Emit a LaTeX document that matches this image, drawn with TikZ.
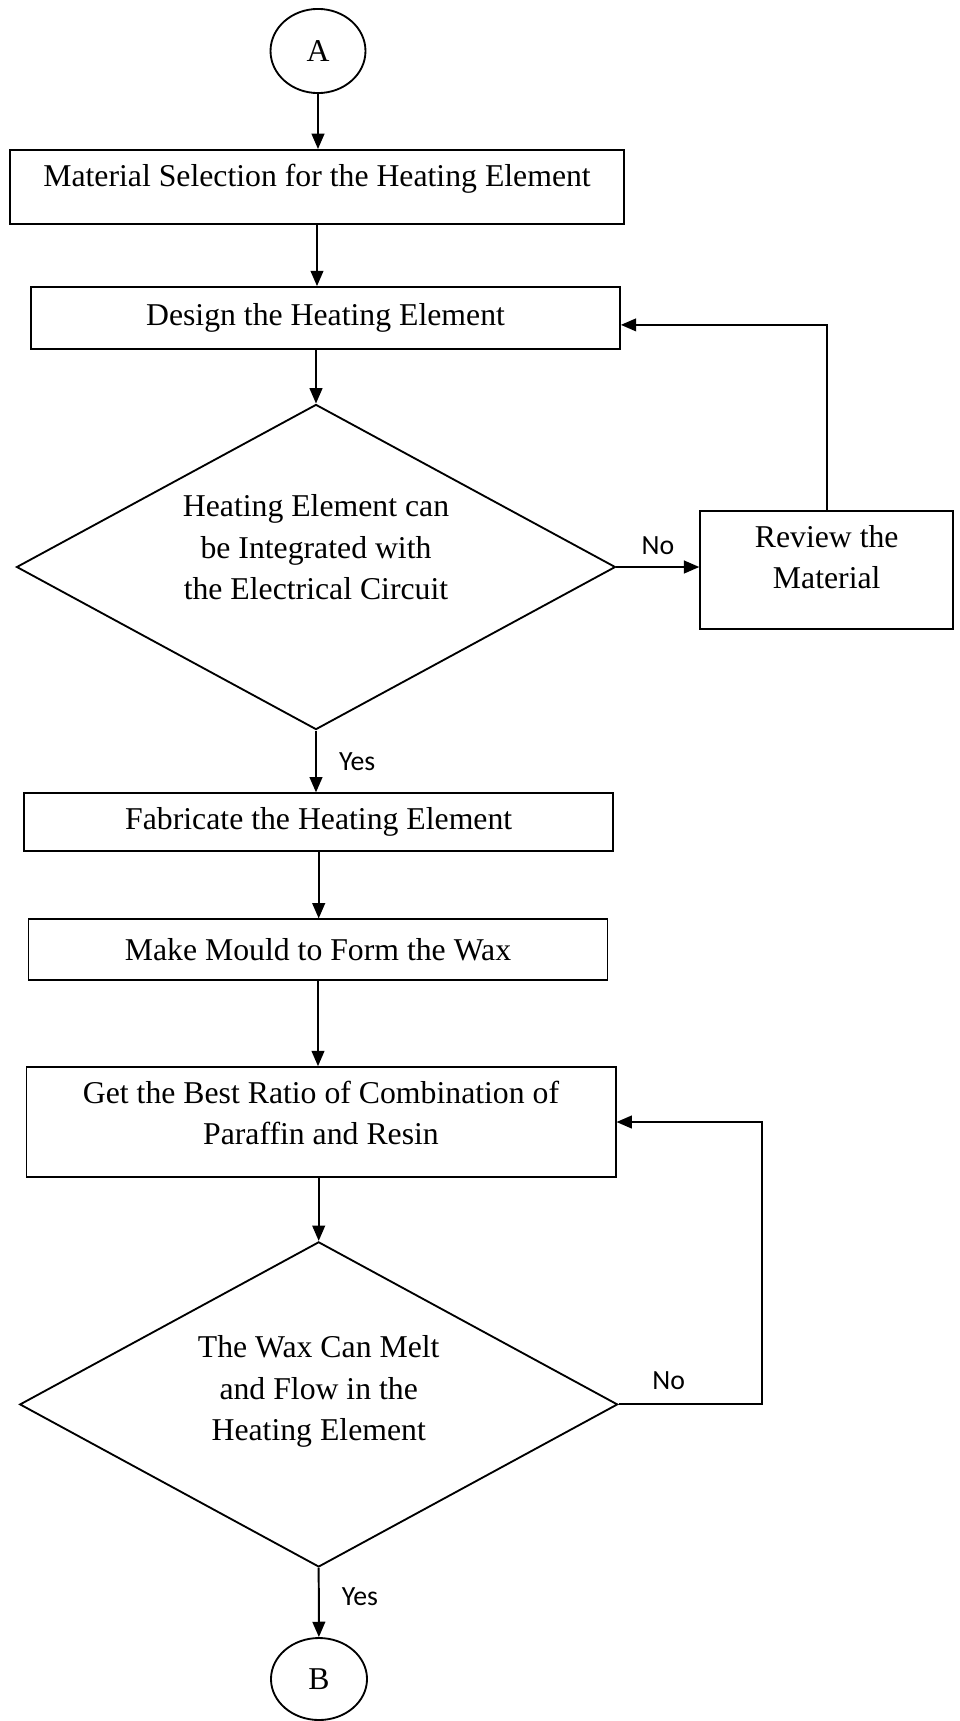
\documentclass[tikz,border=0pt]{standalone}
\usepackage{fontspec}
\setmainfont{Liberation Serif}
\newfontfamily\answerfont{Carlito}
\usepackage{tikz}
\usetikzlibrary{positioning, arrows.meta, shapes.geometric}
\tikzstyle{arrow} = [line width=0.75pt,-{Triangle[length=5.8pt,width=4.8pt]}]

\begin{document}
\begin{tikzpicture}[x=0.378pt,y=-0.378pt]
                    \tikzstyle{every node}=[font=\fontsize{12}{15.7}\selectfont] \tikzstyle{process} =
                    [rectangle, draw=black, line width=0.7pt, align=center, inner sep=0pt] \tikzstyle{decision} =
                    [diamond, draw=black, line width=0.7pt, align=center, inner sep=0pt, shape aspect=1.84]
                    \tikzstyle{connector} = [ellipse, draw=black, line width=0.7pt, inner sep=0pt]
                    \tikzstyle{answer} = [font=\answerfont\fontsize{10.5}{12}\selectfont]

                    \useasboundingbox (0,0) rectangle (960,1721);

                    % main column
                    \node[connector, minimum width=35.9pt, minimum height=31.8pt](a) at (318,51) {A};
                    \node[process, minimum width=232.1pt, minimum height=28pt, text depth=9pt](material) at (317,187) {Material Selection for the Heating Element};
                    \node[process, minimum width=222.6pt, minimum height=23.4pt](design) at (325.5,318) {Design the Heating Element};
                    \node[decision, minimum width=226.4pt, minimum height=122.9pt, text depth=15pt](integrate) at (316,567) {Heating Element can\\be Integrated with\\the Electrical Circuit};
                    \node[process, minimum width=95.6pt, minimum height=44.6pt, text depth=9.7pt](review) at (826.7,570) {Review the\\Material};
                    \node[process, minimum width=222.7pt, minimum height=21.9pt](fabricate) at (318.7,822.3) {Fabricate the Heating Element};
                    \node[process, minimum width=218.9pt, minimum height=22.8pt](mould) at (318,949.5) {Make Mould to Form the Wax};
                    \node[process, minimum width=222.7pt, minimum height=41.5pt, text depth=7.1pt](ratio) at (321,1122) {Get the Best Ratio of Combination of\\Paraffin and Resin};
                    \node[decision, minimum width=226pt, minimum height=122.9pt, text depth=12.2pt](melt) at (318.7,1404.4) {The Wax Can Melt\\and Flow in the\\Heating Element};
                    \node[connector, minimum width=36.3pt, minimum height=31pt](b) at (319,1679) {B};

                    % connectors
                    \draw[arrow] (a) -- (a |- material.north);
                    \draw[arrow] (material.south) -- (material.south |- design.north);
                    \draw[arrow] (design.south -| integrate.north) -- (integrate.north);
                    \draw[arrow] (integrate.east) -- node[answer, above=1pt]{No} (integrate.east -| review.west);
                    \draw[arrow] (review.north) |- ([yshift=-2.6pt]design.east);
                    \draw[arrow] (integrate.south) -- node[answer, right=5pt]{Yes} (integrate.south |- fabricate.north);
                    \draw[arrow] (fabricate.south) -- (fabricate.south |- mould.north);
                    \draw[arrow] (mould.south) -- (mould.south |- ratio.north);
                    \draw[arrow] (ratio.south -| melt.north) -- (melt.north);
                    \draw[arrow] (melt.east) -- node[answer, above=2pt, pos=0.35]{No} ++(143,0) |- (ratio.east);
                    \draw[arrow] (melt.south) -- node[answer, right=5pt, pos=0.42]{Yes} (b);

            \end{tikzpicture}
\end{document}
